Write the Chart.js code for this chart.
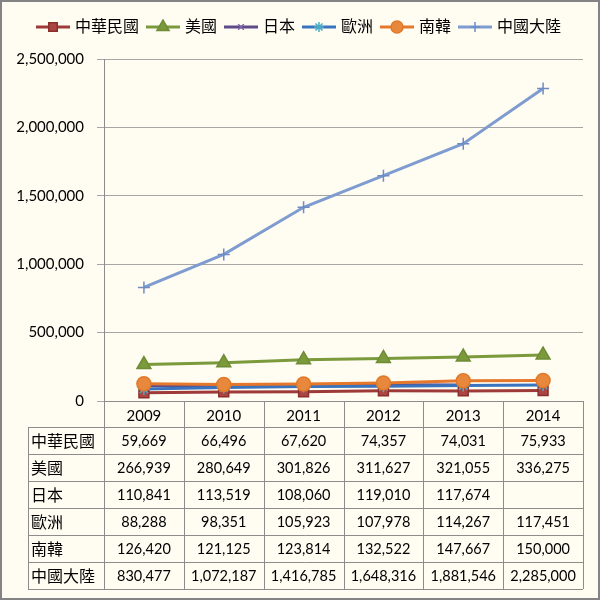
<!DOCTYPE html>
<html>
<head>
<meta charset="utf-8">
<script src="https://cdn.jsdelivr.net/npm/chart.js@4.4.1/dist/chart.umd.min.js"></script>
<style>
  html, body { margin: 0; padding: 0; background: #fffcf2; }
  #wrap { width: 600px; height: 600px; }
</style>
</head>
<body>
<div id="wrap"><canvas id="myChart" width="600" height="600"></canvas></div>
<script>
const FONT = "Lato, 'Noto Sans CJK TC', sans-serif";

// data
const years = ['2009', '2010', '2011', '2012', '2013', '2014'];
const names = ['中華民國', '美國', '日本', '歐洲', '南韓', '中國大陸'];
const roc = [59669, 66496, 67620, 74357, 74031, 75933];
const usa = [266939, 280649, 301826, 311627, 321055, 336275];
const japan = [110841, 113519, 108060, 119010, 117674, null];
const europe = [88288, 98351, 105923, 107978, 114267, 117451];
const korea = [126420, 121125, 123814, 132522, 147667, 150000];
const china = [830477, 1072187, 1416785, 1648316, 1881546, 2285000];
const yTicks = [0, 500000, 1000000, 1500000, 2000000, 2500000];

const allSeries = [roc, usa, japan, europe, korea, china];

// styles per series
const styles = [
  {line: '#9e3b38', fill: '#aa4541', border: '#8c2f2c', point: 'rect', r: 7},
  {line: '#7a9a3c', fill: '#7a9a3c', border: '#6f8c35', point: 'triangle', r: 8},
  {line: '#5f4a8c', fill: '#8064a2', border: '#8064a2', point: 'crossRot', r: 5},
  {line: '#3a74be', fill: '#4bacc6', border: '#4bacc6', point: 'star', r: 6},
  {line: '#e5782a', fill: '#e8883c', border: '#e07a2a', point: 'circle', r: 7},
  {line: '#7e9cd0', fill: '#7e9cd0', border: '#6e8cc4', point: 'cross', r: 6}
];

const fmt = (v) => v == null ? '' : v.toLocaleString('en-US');

// legend icon: line with marker in the middle
const makeIcon = (st) => {
  const c = document.createElement('canvas');
  c.width = 34; c.height = 16;
  const g = c.getContext('2d');
  g.strokeStyle = st.line;
  g.lineWidth = 3;
  g.beginPath(); g.moveTo(0, 8); g.lineTo(34, 8); g.stroke();
  g.fillStyle = st.fill;
  g.strokeStyle = st.border;
  g.lineWidth = 1.5;
  Chart.helpers.drawPoint(g, {pointStyle: st.point, radius: st.r - 1, borderWidth: 1.5, rotation: 0}, 17, 8);
  return c;
};

const datasets = names.map((name, i) => ({
  label: name,
  data: allSeries[i],
  borderColor: styles[i].line,
  backgroundColor: styles[i].fill,
  borderWidth: 3,
  pointStyle: styles[i].point,
  pointRadius: styles[i].r,
  pointBackgroundColor: styles[i].fill,
  pointBorderColor: styles[i].border,
  pointBorderWidth: 1.5,
  tension: 0,
  spanGaps: false,
  order: names.length - i,
  icon: makeIcon(styles[i])
}));

// background and outer frame
const framePlugin = {
  id: 'frame',
  beforeDraw(chart) {
    const ctx = chart.ctx;
    ctx.save();
    ctx.fillStyle = '#fffcf2';
    ctx.fillRect(0, 0, chart.width, chart.height);
    ctx.strokeStyle = '#848484';
    ctx.lineWidth = 2;
    ctx.strokeRect(1, 1, chart.width - 2, chart.height - 2);
    ctx.restore();
  }
};

// data table below the x axis
const tablePlugin = {
  id: 'dataTable',
  afterDraw(chart) {
    const ctx = chart.ctx;
    const xs = chart.scales.x;
    const top = chart.chartArea.bottom;
    const left = 28;
    const colW = (xs.right - xs.left) / years.length;
    const headH = 26, rowH = 27;
    const bottom = top + headH + rowH * names.length;
    ctx.save();
    ctx.strokeStyle = '#8c8c8c';
    ctx.lineWidth = 1;
    ctx.beginPath();
    // vertical lines
    for (let i = 0; i <= years.length; i++) {
      const x = Math.round(xs.left + i * colW) + 0.5;
      ctx.moveTo(x, top); ctx.lineTo(x, bottom);
    }
    ctx.moveTo(left + 0.5, top + headH); ctx.lineTo(left + 0.5, bottom);
    // horizontal lines
    for (let r = 0; r <= names.length; r++) {
      const y = Math.round(top + headH + r * rowH) + 0.5;
      ctx.moveTo(left, y); ctx.lineTo(xs.right, y);
    }
    ctx.stroke();

    ctx.fillStyle = '#000';
    ctx.textBaseline = 'middle';
    names.forEach((name, r) => {
      const yc = top + headH + r * rowH + rowH / 2 + 1;
      ctx.font = '16px ' + FONT;
      ctx.textAlign = 'left';
      ctx.fillText(name, left + 3, yc);
      ctx.font = '14.5px ' + FONT;
      ctx.textAlign = 'center';
      allSeries[r].forEach((v, c) => {
        ctx.fillText(fmt(v), xs.getPixelForValue(c), yc);
      });
    });
    ctx.restore();
  }
};

new Chart(document.getElementById('myChart'), {
  type: 'line',
  data: {labels: years, datasets: datasets},
  options: {
    responsive: false,
    animation: false,
    layout: {padding: {left: 17, right: 17, top: 9, bottom: 11}},
    plugins: {
      tooltip: {enabled: false},
      title: {display: false},
      // empty spacer between the legend and the plot
      subtitle: {display: true, text: '', weight: 500, font: {size: 1}, padding: {top: 0, bottom: 13}},
      legend: {
        position: 'top',
        labels: {
          usePointStyle: true,
          pointStyleWidth: 28,
          padding: 10,
          color: '#000',
          font: {size: 16, family: FONT},
          generateLabels: (chart) => chart.data.datasets.map((ds, i) => ({
            text: ds.label,
            pointStyle: ds.icon,
            fillStyle: ds.borderColor,
            strokeStyle: ds.borderColor,
            lineWidth: 0,
            hidden: false,
            fontColor: '#000',
            datasetIndex: i
          }))
        }
      }
    },
    scales: {
      x: {
        offset: true,
        grid: {display: false},
        border: {display: true, color: '#8c8c8c'},
        ticks: {color: '#000', font: {size: 15, family: FONT}, padding: -2, maxRotation: 0},
        afterFit: (s) => { s.height = 188; }
      },
      y: {
        min: 0,
        max: 2500000,
        afterBuildTicks: (s) => { s.ticks = yTicks.map(v => ({value: v})); },
        grid: {color: '#a6a6a6', tickLength: 7},
        border: {display: true, color: '#8c8c8c'},
        ticks: {color: '#000', font: {size: 15, family: FONT}, padding: 13, callback: (v) => fmt(v)},
        afterFit: (s) => { s.width = 87; }
      }
    }
  },
  plugins: [framePlugin, tablePlugin]
});
</script>
</body>
</html>
